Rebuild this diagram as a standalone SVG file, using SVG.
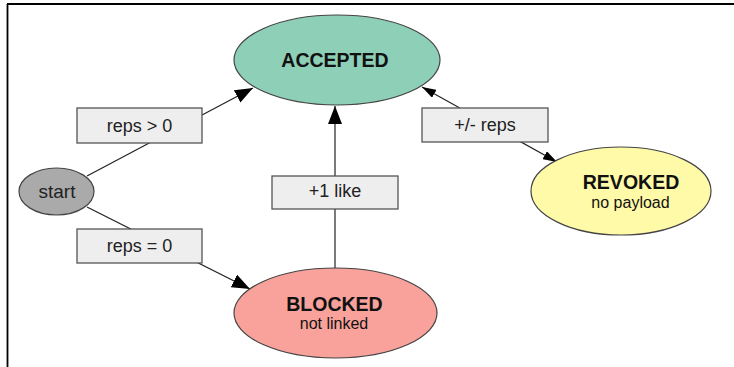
<svg xmlns="http://www.w3.org/2000/svg" width="734" height="367" viewBox="0 0 734 367">
<style>
  .node { stroke: #444; stroke-width: 1.2; }
  .lbl rect { fill: #eeeeee; stroke: #555; stroke-width: 1.3; }
  .lbl text { font-family: "Liberation Sans", Arial, sans-serif; font-size: 18px; fill: #222; text-anchor: middle; }
  .title { font-family: "Liberation Sans", Arial, sans-serif; font-size: 19.5px; font-weight: bold; fill: #111; text-anchor: middle; }
  .sub { font-family: "Liberation Sans", Arial, sans-serif; font-size: 16px; fill: #111; text-anchor: middle; }
  .edge { stroke: #222; stroke-width: 1.2; fill: none; }
</style>
<defs>
  <marker id="big" viewBox="0 0 18 14" refX="18" refY="7" markerWidth="18" markerHeight="14" markerUnits="userSpaceOnUse" orient="auto">
    <path d="M0,0 L18,7 L0,14 Z" fill="#000"/>
  </marker>
  <marker id="small" viewBox="0 0 14 9" refX="14" refY="4.5" markerWidth="14" markerHeight="9" markerUnits="userSpaceOnUse" orient="auto-start-reverse">
    <path d="M0,0 L14,4.5 L0,9 Z" fill="#000"/>
  </marker>
</defs>
<rect x="0" y="0" width="734" height="367" fill="#fff"/>
<g id="frame">
  <line x1="7" y1="4" x2="734" y2="4" stroke="#000" stroke-width="1.8"/>
  <line x1="7.5" y1="4" x2="7.5" y2="367" stroke="#000" stroke-width="1.8"/>
</g>
<g id="connectors">
  <line class="edge" x1="87" y1="176" x2="253" y2="88" marker-end="url(#big)"/>
  <line class="edge" x1="87" y1="207" x2="250" y2="289" marker-end="url(#big)"/>
  <line class="edge" x1="335" y1="268" x2="335" y2="106" marker-end="url(#big)"/>
  <line class="edge" x1="422" y1="87" x2="557" y2="162" marker-start="url(#small)" marker-end="url(#small)"/>
</g>
<g id="accepted">
  <ellipse class="node" cx="337" cy="60" rx="103" ry="45" fill="#8ecfb7"/>
  <text class="title" x="335" y="67">ACCEPTED</text>
</g>
<g id="start">
  <ellipse class="node" cx="56.5" cy="191.5" rx="37.5" ry="23.5" fill="#aaaaaa"/>
  <text x="57" y="197.5" font-family="Liberation Sans, Arial, sans-serif" font-size="19" fill="#222" text-anchor="middle">start</text>
</g>
<g id="blocked">
  <ellipse class="node" cx="335.5" cy="313" rx="101.5" ry="45" fill="#f8a29b"/>
  <text class="title" x="334.5" y="311">BLOCKED</text>
  <text class="sub" x="334" y="329">not linked</text>
</g>
<g id="revoked">
  <ellipse class="node" cx="621" cy="191" rx="90" ry="44" fill="#fffaa8"/>
  <text class="title" x="631" y="188.5">REVOKED</text>
  <text class="sub" x="630.5" y="208">no payload</text>
</g>
<g id="label-reps-gt" class="lbl">
  <rect x="77" y="108" width="125" height="35"/>
  <text x="139.5" y="131.5">reps &gt; 0</text>
</g>
<g id="label-reps-eq" class="lbl">
  <rect x="77" y="229" width="125" height="34"/>
  <text x="139.5" y="252">reps = 0</text>
</g>
<g id="label-like" class="lbl">
  <rect x="272" y="176" width="126" height="33"/>
  <text x="335" y="197">+1 like</text>
</g>
<g id="label-pm" class="lbl">
  <rect x="422" y="108" width="126" height="34"/>
  <text x="485" y="131">+/- reps</text>
</g>
</svg>
